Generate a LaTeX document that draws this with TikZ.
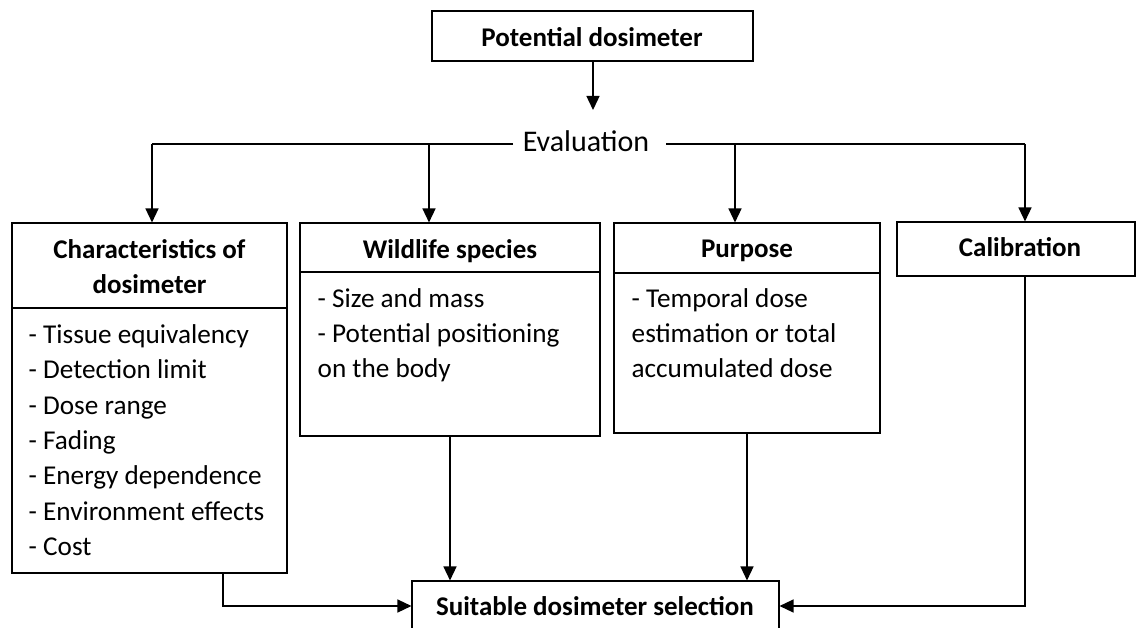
\documentclass[tikz,border=0pt]{standalone}
\usepackage{fontspec}
\setmainfont{Carlito}
\usetikzlibrary{arrows.meta}
\begin{document}
\begin{tikzpicture}[x=1pt,y=-1pt,
  box/.style={draw, line width=1.1pt, inner sep=0pt},
  conn/.style={line width=1.4pt},
  arr/.style={conn, -{Triangle[length=14pt,width=13pt]}},
  txt/.style={inner sep=0pt, font=\fontsize{27.2}{35.3}\selectfont},
  btxt/.style={inner sep=0pt, font=\fontsize{27}{34.5}\selectfont\bfseries},
  evtxt/.style={inner sep=0pt, font=\fontsize{30}{36}\selectfont},
  evline/.style={line width=2pt}
]
\clip (0,0) rectangle (1137,628);
% boxes
\node[box, minimum width=321pt, minimum height=50pt] (top) at (592.5,36) {};
\node[box, minimum width=275pt, minimum height=85pt] (box1h) at (149.5,265.5) {};
\node[box, minimum width=275pt, minimum height=265pt] (box1b) at (149.5,440.5) {};
\node[box, minimum width=300pt, minimum height=49pt] (box2h) at (450,247.5) {};
\node[box, minimum width=300pt, minimum height=164pt] (box2b) at (450,354) {};
\node[box, minimum width=266pt, minimum height=50pt] (box3h) at (747,248) {};
\node[box, minimum width=266pt, minimum height=160pt] (box3b) at (747,353) {};
\node[box, minimum width=238pt, minimum height=54pt] (cal) at (1016,249) {};
\node[box, minimum width=367pt, minimum height=50pt] (sel) at (595.5,606) {};
% texts (base anchor of a multi-line node = baseline of its last line)
\node[btxt, anchor=base] (topt) at (592,46.7) {Potential dosimeter};
\node[evtxt, anchor=base] (eval) at (586,151.7) {Evaluation};
\node[btxt, anchor=base, align=center] (h1t) at (149.5,293) {Characteristics of\\dosimeter};
\node[btxt, anchor=base] (h2t) at (450,258.3) {Wildlife species};
\node[btxt, anchor=base] (h3t) at (747,257.5) {Purpose};
\node[btxt, anchor=base] (calt) at (1020,256.5) {Calibration};
\node[btxt, anchor=base] (selt) at (595,615) {Suitable dosimeter selection};
\node[txt, anchor=base west, align=left] (b1t) at (28.5,555.3) {- Tissue equivalency\\- Detection limit\\- Dose range\\- Fading\\- Energy dependence\\- Environment effects\\- Cost};
\node[txt, anchor=base west, align=left] (b2t) at (317.5,377.9) {- Size and mass\\- Potential positioning\\on the body};
\node[txt, anchor=base west, align=left] (b3t) at (631.5,377.9) {- Temporal dose\\estimation or total\\accumulated dose};
% evaluation splitter
\coordinate (evtip) at (593,110);
\coordinate (eGL) at (513,144);
\coordinate (eGR) at (666,144);
\coordinate (eL) at (152,144);
\coordinate (e2) at (429,144);
\coordinate (e3) at (735,144);
\coordinate (eR) at (1025,144);
\draw[arr] (top.south -| evtip) -- (evtip);
\draw[evline] (eGL) -- (eL);
\draw[evline] (eGR) -- (eR);
\draw[arr] (eL) -- (eL |- box1h.north);
\draw[arr] (e2) -- (e2 |- box2h.north);
\draw[arr] (e3) -- (e3 |- box3h.north);
\draw[arr] (eR) -- (eR |- cal.north);
% to selection
\coordinate (k1) at (223,0);
\coordinate (k4) at (1025,0);
\draw[arr] (box1b.south -| k1) |- (sel.west);
\draw[arr] (box2b.south) -- (box2b.south |- sel.north);
\draw[arr] (box3b.south) -- (box3b.south |- sel.north);
\draw[arr] (cal.south -| k4) |- (sel.east);
\end{tikzpicture}
\end{document}
